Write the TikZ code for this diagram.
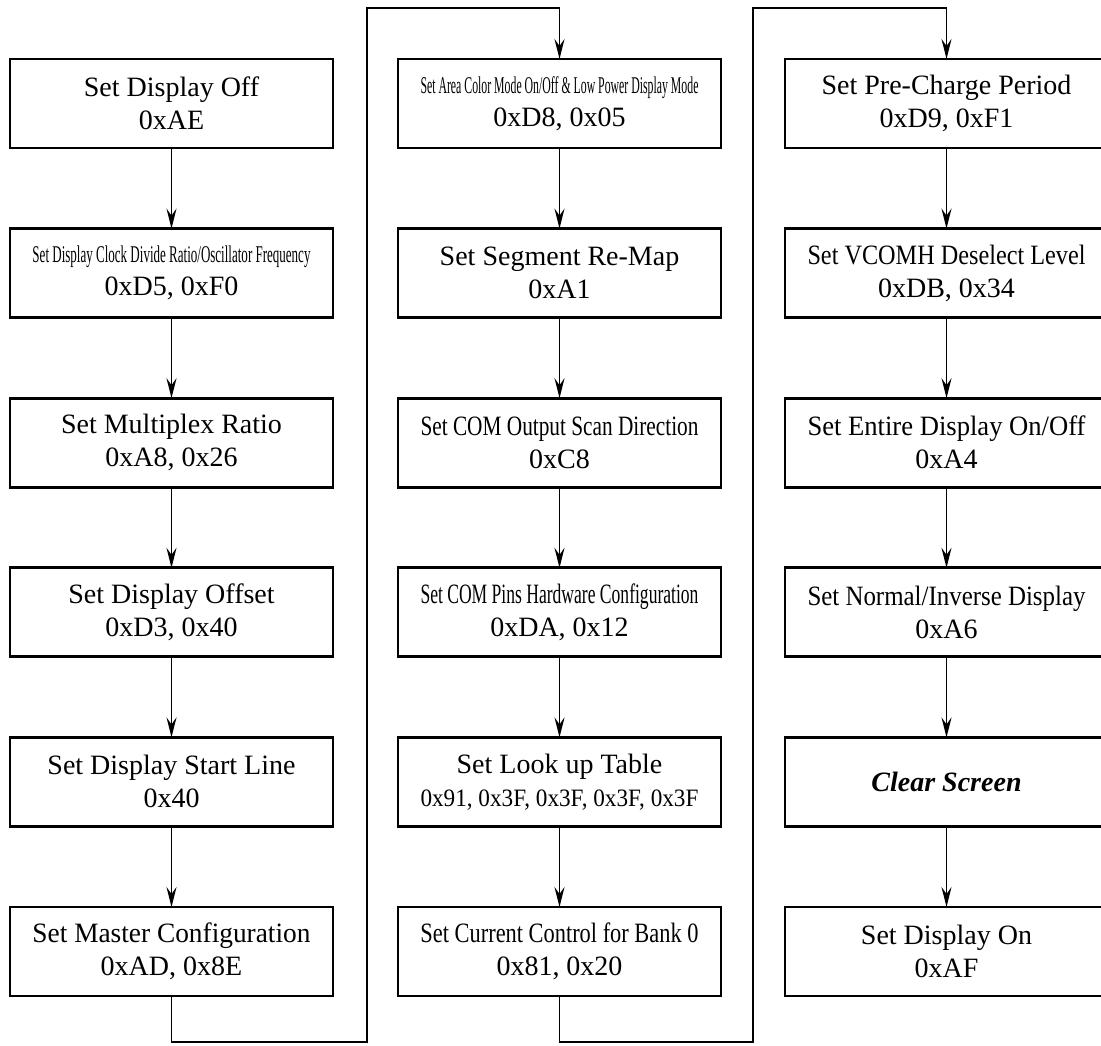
\documentclass[tikz,border=0pt]{standalone}
\usepackage{fontspec}
\setmainfont{Liberation Serif}
\usepackage{graphicx}
\usetikzlibrary{arrows.meta, positioning}
\tikzset{>={Stealth[length=10pt,width=5pt,inset=3.5pt]}}
\tikzset{
  cmd/.style={draw, line width=1.4pt, minimum width=161.5pt, minimum height=44.5pt,
    inner sep=0pt, outer sep=0pt, align=center, font=\fontsize{14}{16.5}\selectfont},
  flow/.style={->, line width=0.9pt}
}
\newsavebox\fitbox
\newcommand{\fitw}[1]{\sbox\fitbox{#1}\ifdim\wd\fitbox>139pt\resizebox{139pt}{\height}{#1}\else\usebox\fitbox\fi}
\begin{document}
\begin{tikzpicture}[x=0.5pt, y=-0.5pt]
\useasboundingbox (0,0) rectangle (1101,1045);

\node[cmd] (off) at (171.5,103.5) {Set Display Off\\0xAE};
\node[cmd, below=40.3pt of off] (clk) {{\fontsize{12}{14}\selectfont\fitw{Set Display Clock Divide Ratio/Oscillator Frequency}}\\0xD5, 0xF0};
\node[cmd, below=40.3pt of clk] (mux) {Set Multiplex Ratio\\0xA8, 0x26};
\node[cmd, below=40.3pt of mux] (ofs) {Set Display Offset\\0xD3, 0x40};
\node[cmd, below=40.3pt of ofs] (start) {Set Display Start Line\\0x40};
\node[cmd, below=40.3pt of start] (master) {\fitw{Set Master Configuration}\\0xAD, 0x8E};

\node[cmd] (area) at (559.5,103.5) {{\fontsize{12}{14}\selectfont\fitw{Set Area Color Mode On/Off \& Low Power Display Mode}}\\0xD8, 0x05};
\node[cmd, below=40.3pt of area] (seg) {Set Segment Re-Map\\0xA1};
\node[cmd, below=40.3pt of seg] (scan) {\fitw{Set COM Output Scan Direction}\\0xC8};
\node[cmd, below=40.3pt of scan] (pins) {\fitw{Set COM Pins Hardware Configuration}\\0xDA, 0x12};
\node[cmd, below=40.3pt of pins] (lut) {Set Look up Table\\{\fontsize{12.5}{15}\selectfont\fitw{0x91, 0x3F, 0x3F, 0x3F, 0x3F}}};
\node[cmd, below=40.3pt of lut] (bank) {\fitw{Set Current Control for Bank 0}\\0x81, 0x20};

\node[cmd] (prech) at (946.5,103.5) {Set Pre-Charge Period\\0xD9, 0xF1};
\node[cmd, below=40.3pt of prech] (vcomh) {\fitw{Set VCOMH Deselect Level}\\0xDB, 0x34};
\node[cmd, below=40.3pt of vcomh] (entire) {\fitw{Set Entire Display On/Off}\\0xA4};
\node[cmd, below=40.3pt of entire] (inv) {\fitw{Set Normal/Inverse Display}\\0xA6};
\node[cmd, below=40.3pt of inv] (clr) {\textbf{\textit{Clear Screen}}};
\node[cmd, below=40.3pt of clr] (on) {Set Display On\\0xAF};

\foreach \a/\b in {off/clk, clk/mux, mux/ofs, ofs/start, start/master,
  area/seg, seg/scan, scan/pins, pins/lut, lut/bank,
  prech/vcomh, vcomh/entire, entire/inv, inv/clr, clr/on}
  \draw[flow] (\a) -- (\b);

\coordinate (up1) at (367,8);
\coordinate (up2) at (753,8);
\draw[flow] (master.south) -- ++(0,46) -| (up1) -| (area.north);
\draw[flow] (bank.south) -- ++(0,46) -| (up2) -| (prech.north);
\end{tikzpicture}
\end{document}
